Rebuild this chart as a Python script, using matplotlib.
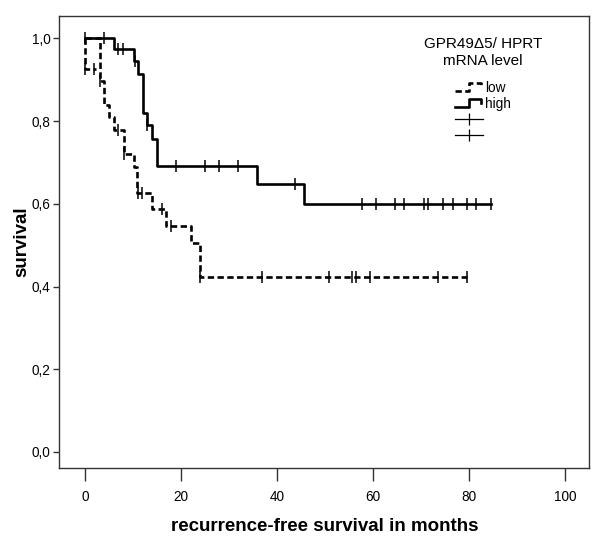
import matplotlib.pyplot as plt
import numpy as np
from matplotlib.legend_handler import HandlerBase
from matplotlib.lines import Line2D

plt.rcParams["font.family"] = ["Liberation Sans", "DejaVu Sans"]

# Kaplan-Meier steps (months, survival)
high_t = [0, 6.1, 10.1, 11.0, 12.1, 12.8, 14.0, 14.9, 35.8, 45.7]
high_s = [1.0, 0.975, 0.946, 0.913, 0.82, 0.79, 0.756, 0.692, 0.648, 0.60]
high_end = 84.6
high_cens = [0, 4.0, 6.9, 7.8, 10.3, 12.8, 18.9, 24.9, 27.9, 31.8, 43.7,
             57.7, 60.6, 64.6, 66.5, 70.6, 71.5, 74.5, 76.6, 79.5, 81.5, 84.6]

low_t = [0, 3.1, 4.0, 4.9, 6.1, 8.1, 10.1, 10.9, 14.0, 16.9, 22.1, 24.0]
low_s = [1.0, 0.896, 0.839, 0.811, 0.779, 0.72, 0.688, 0.626, 0.588, 0.547,
         0.506, 0.4225]
low_end = 79.5
low_cens = [3.1, 6.8, 8.1, 11.0, 11.8, 16.1, 17.9, 24.0, 36.9, 50.7, 55.6,
            56.5, 59.4, 73.6, 79.5]
# short extra branch of the low curve at the very start
low0_t = [0, 0, 2.2]
low0_s = [1.0, 0.925, 0.925]
low0_cens = [0, 1.9]

xticks = [0, 20, 40, 60, 80, 100]
yticks = [0.0, 0.2, 0.4, 0.6, 0.8, 1.0]
ytick_labels = ["0,0", "0,2", "0,4", "0,6", "0,8", "1,0"]


def surv_at(t, times, surv):
    idx = np.searchsorted(times, t, side="right") - 1
    return np.array(surv)[idx]


class StepHandler(HandlerBase):
    def create_artists(self, legend, orig_handle, xdescent, ydescent,
                       width, height, fontsize, trans):
        xs = -xdescent + width * np.array([0, 0.5, 0.5, 0.95, 0.95])
        ys = -ydescent + height * np.array([0.05, 0.05, 0.95, 0.95, 0.55])
        line = Line2D(xs, ys)
        line.update_from(orig_handle)
        line.set_marker("None")
        line.set_transform(trans)
        return [line]


fig = plt.figure(figsize=(6.0, 5.41), dpi=100)
ax = fig.add_axes([0.099, 0.1344, 0.883, 0.836])

lw = 1.9
dash = (0, (2.4, 1.3))

# low
ax.step(low_t + [low_end], low_s + [low_s[-1]], where="post",
        color="k", lw=lw, linestyle=dash)
ax.plot(low0_t, low0_s, color="k", lw=lw, linestyle=dash)
ax.plot(low_cens, surv_at(low_cens, low_t, low_s), linestyle="none",
        marker="|", ms=8, mew=1.1, color="k")
ax.plot(low0_cens, [low0_s[-1]] * len(low0_cens), linestyle="none",
        marker="|", ms=8, mew=1.1, color="k")

# high
ax.step(high_t + [high_end], high_s + [high_s[-1]], where="post",
        color="k", lw=lw)
ax.plot(high_cens, surv_at(high_cens, high_t, high_s), linestyle="none",
        marker="|", ms=8, mew=1.1, color="k")

ax.set_xlim(-5.35, 105)
ax.set_ylim(-0.0395, 1.054)
ax.set_xticks(xticks)
ax.set_yticks(yticks)
ax.set_yticklabels(ytick_labels)
ax.tick_params(direction="out", labelsize=9.8, color="#333333", width=1)
ax.tick_params(axis="x", length=9.5, pad=6)
ax.tick_params(axis="y", length=4.5, pad=2)
for sp in ax.spines.values():
    sp.set_color("#333333")
    sp.set_linewidth(1)

ax.set_xlabel("recurrence-free survival in months", fontsize=13.5,
              fontweight="bold", labelpad=10)
ax.set_ylabel("survival", fontsize=13.5, fontweight="bold", labelpad=1)

h_low = Line2D([], [], color="k", lw=lw, linestyle=dash)
h_high = Line2D([], [], color="k", lw=lw)
h_c1 = Line2D([], [], color="k", lw=0.9, marker="|", ms=8, mew=0.9)
h_c2 = Line2D([], [], color="k", lw=0.9, marker="|", ms=8, mew=0.9)
leg = ax.legend([h_low, h_high, h_c1, h_c2], ["low", "high", " ", " "],
                title="GPR49\u03945/ HPRT\nmRNA level", frameon=False,
                loc="upper center", bbox_to_anchor=(0.80, 0.98),
                fontsize=9.8, title_fontsize=11, handlelength=2.0,
                handletextpad=0.2, labelspacing=0.15, numpoints=1,
                handler_map={h_low: StepHandler(), h_high: StepHandler()})
leg.get_title().set_multialignment("center")
leg._legend_box.sep = 9.5

fig.savefig("out.png", dpi=100)
